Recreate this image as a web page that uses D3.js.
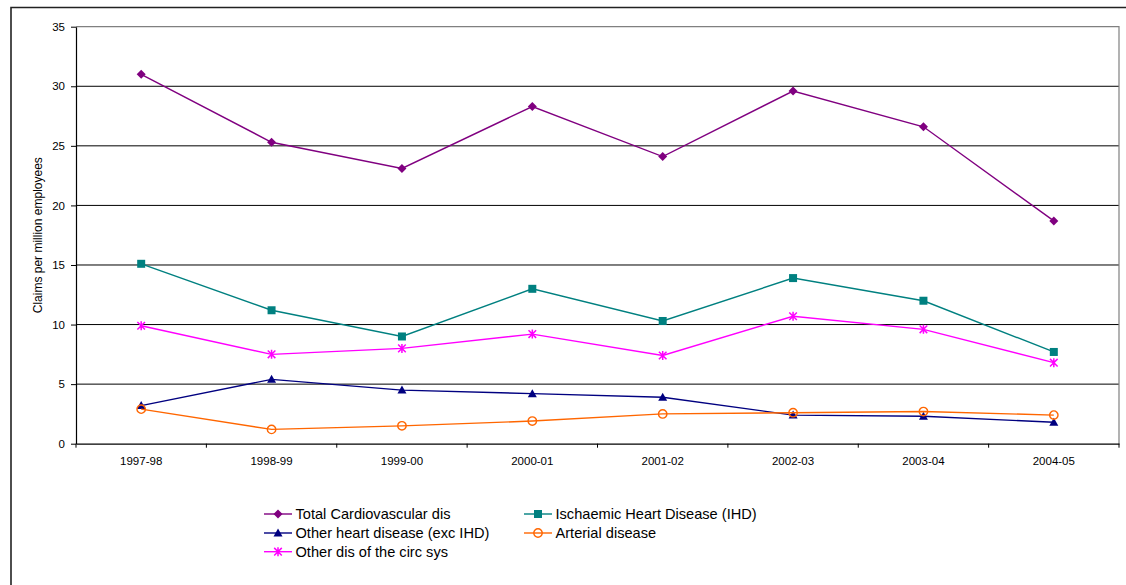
<!DOCTYPE html>
<html>
<head>
<meta charset="utf-8">
<script src="https://cdn.jsdelivr.net/npm/d3@7"></script>
<style>
  html, body { margin: 0; padding: 0; background: #fff; }
  svg { display: block; }
  text { font-family: "Liberation Sans", Arial, sans-serif; fill: #000; }
</style>
</head>
<body>
<svg id="chart" width="1126" height="585"></svg>
<script>
// Financial years on the category axis
const years = ["1997-98", "1998-99", "1999-00", "2000-01", "2001-02", "2002-03", "2003-04", "2004-05"];

// Claims per million employees, by disease group
const totalCardio   = [31.0, 25.3, 23.1, 28.3, 24.1, 29.6, 26.6, 18.7];
const ischaemic     = [15.1, 11.2, 9.0, 13.0, 10.3, 13.9, 12.0, 7.7];
const otherHeart    = [3.2, 5.4, 4.5, 4.2, 3.9, 2.4, 2.3, 1.8];
const arterial      = [2.9, 1.2, 1.5, 1.9, 2.5, 2.6, 2.7, 2.4];
const otherCirc     = [9.9, 7.5, 8.0, 9.2, 7.4, 10.7, 9.6, 6.8];

const yTicks = [0, 5, 10, 15, 20, 25, 30, 35];

const series = [
  { name: "Total Cardiovascular dis",       values: totalCardio, color: "#800080", marker: "diamond" },
  { name: "Ischaemic Heart Disease (IHD)",  values: ischaemic,   color: "#008080", marker: "square" },
  { name: "Other heart disease (exc IHD)",  values: otherHeart,  color: "#000080", marker: "triangle" },
  { name: "Arterial disease",               values: arterial,    color: "#FF6600", marker: "circle" },
  { name: "Other dis of the circ sys",      values: otherCirc,   color: "#FF00FF", marker: "asterisk" }
];

const svg = d3.select("#chart");

// Outer chart frame (only the top and left edges fall inside the view)
svg.append("path")
  .attr("d", "M11,585 V7.5 H1126")
  .attr("fill", "none")
  .attr("stroke", "#222")
  .attr("stroke-width", 1.6);

const plot = { left: 76, right: 1119, top: 26.7, bottom: 443.7 };

const x = d3.scaleBand().domain(years).range([plot.left, plot.right]).padding(0);
const y = d3.scaleLinear().domain([0, 35]).range([plot.bottom, plot.top]);

// Horizontal gridlines
svg.append("g")
  .selectAll("line")
  .data(yTicks.filter(t => t > 0 && t < 35))
  .join("line")
  .attr("x1", plot.left).attr("x2", plot.right)
  .attr("y1", d => y(d)).attr("y2", d => y(d))
  .attr("stroke", "#000").attr("stroke-width", 1);

// Plot-area border (top and right)
svg.append("path")
  .attr("d", `M${plot.left},${y(35)} H${plot.right} V${plot.bottom}`)
  .attr("fill", "none")
  .attr("stroke", "#808080")
  .attr("stroke-width", 1.2);

// Y axis
const yAxis = svg.append("g")
  .attr("transform", `translate(${plot.left},0)`)
  .call(d3.axisLeft(y).tickValues(yTicks).tickSize(5).tickPadding(6).tickSizeOuter(0));
yAxis.select(".domain").attr("stroke", "#000").attr("stroke-width", 1.2);
yAxis.selectAll(".tick line").attr("stroke", "#000");
yAxis.selectAll(".tick text")
  .style("font-family", "'Liberation Sans', Arial, sans-serif")
  .style("font-size", "11.5px")
  .attr("fill", "#000");

// X axis: labels centred in each band, ticks on band boundaries
const xAxis = svg.append("g")
  .attr("transform", `translate(0,${plot.bottom})`)
  .call(d3.axisBottom(x).tickSize(0).tickPadding(13).tickSizeOuter(0));
xAxis.select(".domain").attr("stroke", "#000").attr("stroke-width", 1.2);
xAxis.selectAll(".tick text")
  .style("font-family", "'Liberation Sans', Arial, sans-serif")
  .style("font-size", "11.5px")
  .attr("fill", "#000");

const boundaries = years.map(d => x(d)).concat([x(years[years.length - 1]) + x.bandwidth()]);
svg.append("g")
  .selectAll("line")
  .data(boundaries)
  .join("line")
  .attr("x1", d => d).attr("x2", d => d)
  .attr("y1", plot.bottom).attr("y2", plot.bottom + 4)
  .attr("stroke", "#000").attr("stroke-width", 1);

// Y axis title
svg.append("text")
  .attr("transform", `translate(42,${(plot.top + plot.bottom) / 2}) rotate(-90)`)
  .attr("text-anchor", "middle")
  .style("font-size", "12px")
  .text("Claims per million employees");

// Marker drawing
function drawMarker(g, type, color) {
  switch (type) {
    case "diamond":
      g.append("path").attr("d", "M0,-4.5 L4.5,0 L0,4.5 L-4.5,0 Z").attr("fill", color);
      break;
    case "square":
      g.append("rect").attr("x", -4).attr("y", -4).attr("width", 8).attr("height", 8)
        .attr("fill", color);
      break;
    case "triangle":
      g.append("path").attr("d", "M0,-4.5 L4.5,3.5 L-4.5,3.5 Z").attr("fill", color);
      break;
    case "circle":
      g.append("circle").attr("r", 4.2).attr("fill", "none")
        .attr("stroke", color).attr("stroke-width", 1.4);
      break;
    case "asterisk":
      g.append("path")
        .attr("d", "M-3.8,-3.8 L3.8,3.8 M-3.8,3.8 L3.8,-3.8 M0,-4.5 L0,4.5")
        .attr("fill", "none").attr("stroke", color).attr("stroke-width", 1.5);
      break;
  }
}

const cx = d => x(d) + x.bandwidth() / 2;
const line = d3.line().x(d => cx(d.year)).y(d => y(d.value));

series.forEach(s => {
  const pts = years.map((yr, i) => ({ year: yr, value: s.values[i] }));
  const g = svg.append("g");
  g.append("path")
    .datum(pts)
    .attr("d", line)
    .attr("fill", "none")
    .attr("stroke", s.color)
    .attr("stroke-width", 1.4);
  pts.forEach(p => {
    const m = g.append("g").attr("transform", `translate(${cx(p.year)},${y(p.value)})`);
    drawMarker(m, s.marker, s.color);
  });
});

// Legend
const legendPos = [
  { x: 264, y: 514 }, { x: 524, y: 514 },
  { x: 264, y: 533 }, { x: 524, y: 533 },
  { x: 264, y: 551.7 }
];
series.forEach((s, i) => {
  const p = legendPos[i];
  const g = svg.append("g").attr("transform", `translate(${p.x},${p.y})`);
  g.append("line").attr("x1", 0).attr("x2", 28).attr("y1", 0).attr("y2", 0)
    .attr("stroke", s.color).attr("stroke-width", 1.4);
  drawMarker(g.append("g").attr("transform", "translate(14,0)"), s.marker, s.color);
  g.append("text")
    .attr("x", 31.5).attr("y", 0).attr("dy", "0.36em")
    .style("font-size", "14.6px")
    .text(s.name);
});
</script>
</body>
</html>
